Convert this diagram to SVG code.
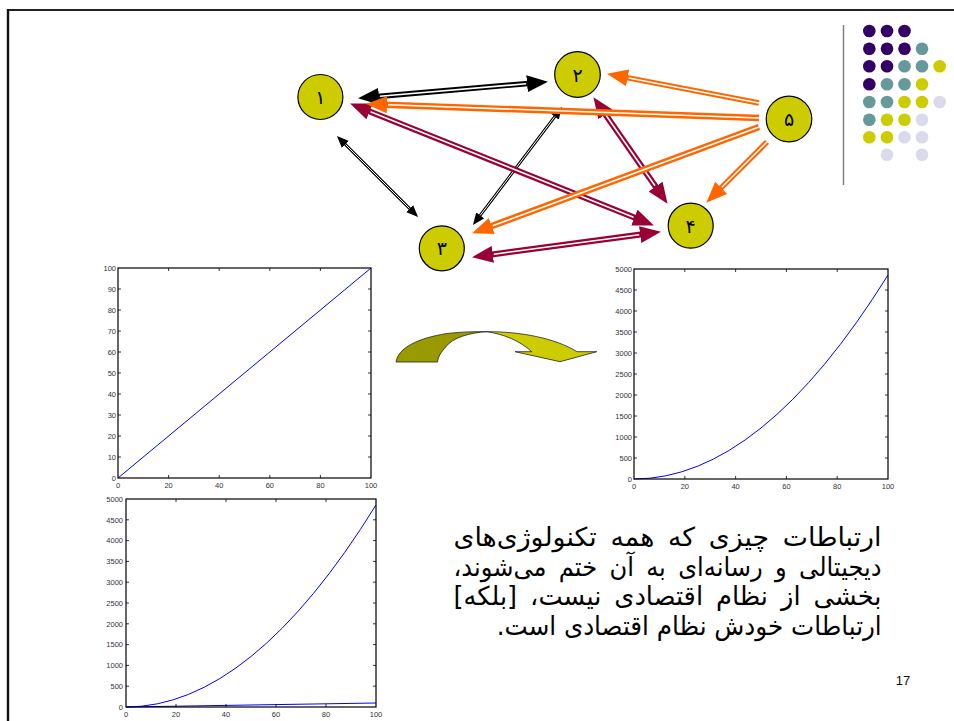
<svg xmlns="http://www.w3.org/2000/svg" width="954" height="721" viewBox="0 0 954 721">
<style>
.node circle{fill:#CCCC00;stroke:#000;stroke-width:1.2}
.node text{font-family:"DejaVu Sans",sans-serif;font-size:19px;fill:#000;text-anchor:middle;direction:rtl}
.w{stroke:#fff;fill:none}
.ax{fill:none;stroke:#000;stroke-width:1.2}
.tk{fill:none;stroke:#000;stroke-width:0.8}
.lbl{font-family:"Liberation Sans",Arial,sans-serif;font-size:7.5px;fill:#333}
.ly{text-anchor:end}
.lx{text-anchor:middle}
.cv{fill:none;stroke:#0000FF;stroke-width:1}
.fa{font-family:"DejaVu Sans",sans-serif;font-size:26px;fill:#000;direction:rtl;text-anchor:middle}
.j{word-spacing:5px}
</style>
<defs>
<marker id="hb" markerUnits="userSpaceOnUse" viewBox="0 -8.5 21 17" markerWidth="21" markerHeight="17" refX="10" refY="0" orient="auto-start-reverse"><path d="M0,-8.5 L21,0 L0,8.5 z" fill="#000"/></marker>
<marker id="hs" markerUnits="userSpaceOnUse" viewBox="0 -5 12 10" markerWidth="12" markerHeight="10" refX="6" refY="0" orient="auto-start-reverse"><path d="M0,-5 L12,0 L0,5 z" fill="#000"/></marker>
<marker id="ho" markerUnits="userSpaceOnUse" viewBox="0 -8.5 21 17" markerWidth="21" markerHeight="17" refX="10" refY="0" orient="auto-start-reverse"><path d="M0,-8.5 L21,0 L0,8.5 z" fill="#FF6600"/></marker>
<marker id="hm" markerUnits="userSpaceOnUse" viewBox="0 -8.5 21 17" markerWidth="21" markerHeight="17" refX="10" refY="0" orient="auto-start-reverse"><path d="M0,-8.5 L21,0 L0,8.5 z" fill="#990033"/></marker>
</defs>
<rect width="954" height="721" fill="#fff"/>
<g id="frame">
<path d="M8,10 H954" stroke="#222" stroke-width="2" fill="none"/>
<path d="M8,9 V721" stroke="#111" stroke-width="2.4" fill="none"/>
<path d="M843.5,25 V185" stroke="#808080" stroke-width="1.5" fill="none"/>
</g>
<g id="dots">
<circle cx="869.3" cy="31" r="6.3" fill="#330066"/><circle cx="887" cy="31" r="6.3" fill="#330066"/><circle cx="904.5" cy="31" r="6.3" fill="#330066"/>
<circle cx="869.3" cy="48.7" r="6.3" fill="#330066"/><circle cx="887" cy="48.7" r="6.3" fill="#330066"/><circle cx="904.5" cy="48.7" r="6.3" fill="#330066"/><circle cx="922" cy="48.7" r="6.3" fill="#669999"/>
<circle cx="869.3" cy="66.3" r="6.3" fill="#330066"/><circle cx="887" cy="66.3" r="6.3" fill="#330066"/><circle cx="904.5" cy="66.3" r="6.3" fill="#669999"/><circle cx="922" cy="66.3" r="6.3" fill="#669999"/><circle cx="939.7" cy="66.3" r="6.3" fill="#CCCC00"/>
<circle cx="869.3" cy="84.3" r="6.3" fill="#330066"/><circle cx="887" cy="84.3" r="6.3" fill="#669999"/><circle cx="904.5" cy="84.3" r="6.3" fill="#669999"/><circle cx="922" cy="84.3" r="6.3" fill="#CCCC00"/>
<circle cx="869.3" cy="102" r="6.3" fill="#669999"/><circle cx="887" cy="102" r="6.3" fill="#669999"/><circle cx="904.5" cy="102" r="6.3" fill="#CCCC00"/><circle cx="922" cy="102" r="6.3" fill="#CCCC00"/><circle cx="939.7" cy="102" r="6.3" fill="#DADAEC"/>
<circle cx="869.3" cy="119.7" r="6.3" fill="#669999"/><circle cx="887" cy="119.7" r="6.3" fill="#CCCC00"/><circle cx="904.5" cy="119.7" r="6.3" fill="#CCCC00"/><circle cx="922" cy="119.7" r="6.3" fill="#DADAEC"/>
<circle cx="869.3" cy="137.3" r="6.3" fill="#CCCC00"/><circle cx="887" cy="137.3" r="6.3" fill="#CCCC00"/><circle cx="904.5" cy="137.3" r="6.3" fill="#DADAEC"/><circle cx="922" cy="137.3" r="6.3" fill="#DADAEC"/>
<circle cx="887" cy="154.7" r="6.3" fill="#DADAEC"/><circle cx="922" cy="154.7" r="6.3" fill="#DADAEC"/>
</g>
<g id="connectors">
<path d="M369,97.2 L537,82.8" stroke="#000" stroke-width="5.5" fill="none" marker-start="url(#hb)" marker-end="url(#hb)"/>
<path class="w" d="M379.9,96.2 L526.1,83.8" stroke-width="1.6"/>
<path d="M341.2,140.2 L413.8,212.8" stroke="#000" stroke-width="3" fill="none" marker-start="url(#hs)" marker-end="url(#hs)"/>
<path class="w" d="M345.5,144.5 L409.5,208.5" stroke-width="1"/>
<path d="M558.4,111.8 L476.6,220.2" stroke="#000" stroke-width="3" fill="none" marker-start="url(#hs)" marker-end="url(#hs)"/>
<path class="w" d="M554.8,116.6 L480.2,215.4" stroke-width="1"/>
<path d="M360.3,107.7 L643.7,221.3" stroke="#990033" stroke-width="6" fill="none" marker-start="url(#hm)" marker-end="url(#hm)"/>
<path class="w" d="M370.5,111.8 L633.5,217.2" stroke-width="1.6"/>
<path d="M599.7,106.2 L661.3,194.8" stroke="#990033" stroke-width="6" fill="none" marker-start="url(#hm)" marker-end="url(#hm)"/>
<path class="w" d="M606,115.2 L655,185.8" stroke-width="1.6"/>
<path d="M482.9,255.7 L650.1,233.3" stroke="#990033" stroke-width="6" fill="none" marker-start="url(#hm)" marker-end="url(#hm)"/>
<path class="w" d="M493.8,254.2 L639.2,234.8" stroke-width="1.6"/>
<path d="M759,103 L617.8,75.9" stroke="#FF6600" stroke-width="5.5" fill="none" marker-end="url(#ho)"/>
<path class="w" d="M759,103 L628.6,78" stroke-width="1.4"/>
<path d="M759,118 L377,104.4" stroke="#FF6600" stroke-width="6.5" fill="none" marker-end="url(#ho)"/>
<path class="w" d="M759,118 L388,104.8" stroke-width="1.6"/>
<path d="M759,127 L482.4,229.5" stroke="#FF6600" stroke-width="6.5" fill="none" marker-end="url(#ho)"/>
<path class="w" d="M759,127 L492.7,225.7" stroke-width="1.6"/>
<path d="M767,142 L714.1,194.9" stroke="#FF6600" stroke-width="5.5" fill="none" marker-end="url(#ho)"/>
<path class="w" d="M767,142 L721.8,187.2" stroke-width="1.4"/>
</g>
<g id="n1" class="node"><circle cx="320.4" cy="97" r="22.5"/><text x="320.4" y="104">۱</text></g>
<g id="n2" class="node"><circle cx="577.5" cy="74.5" r="22.8"/><text x="577.5" y="81.5">۲</text></g>
<g id="n3" class="node"><circle cx="441.8" cy="248.3" r="22.5"/><text x="441.8" y="255.3">۳</text></g>
<g id="n4" class="node"><circle cx="690.7" cy="225.7" r="22.5"/><text x="690.7" y="232.7">۴</text></g>
<g id="n5" class="node"><circle cx="789" cy="119" r="22.8"/><text x="789" y="126">۵</text></g>
<g id="bent-arrow">
<path d="M396,362 C398,348 418,338 447,333.5 C462,331.8 476,331.5 487,331.7 C470,332.5 452,338 446,346.7 C441,352 438,357 437.5,362 Z" fill="#999900" stroke="#222" stroke-width="0.8"/>
<path d="M487,331.7 C520,331.5 555,338 577,351.7 L596.7,351.7 L560,361.7 L515,351.7 L531.7,351.7 C520,341 505,334.5 487,331.7 Z" fill="#CCCC00" stroke="#222" stroke-width="0.8"/>
</g>
<g id="plot1">
<path class="cv" d="M118,478 L371,268"/>
<rect class="ax" x="118" y="268" width="253" height="210"/>
<path class="tk" d="M118,457h3M118,436h3M118,415h3M118,394h3M118,373h3M118,352h3M118,331h3M118,310h3M118,289h3M371,457h-3M371,436h-3M371,415h-3M371,394h-3M371,373h-3M371,352h-3M371,331h-3M371,310h-3M371,289h-3M168.6,478v-3M219.2,478v-3M269.8,478v-3M320.4,478v-3M168.6,268v3M219.2,268v3M269.8,268v3M320.4,268v3"/>
<g class="lbl ly">
<text x="116" y="480.7">0</text><text x="116" y="459.7">10</text><text x="116" y="438.7">20</text><text x="116" y="417.7">30</text><text x="116" y="396.7">40</text><text x="116" y="375.7">50</text><text x="116" y="354.7">60</text><text x="116" y="333.7">70</text><text x="116" y="312.7">80</text><text x="116" y="291.7">90</text><text x="116" y="270.7">100</text>
</g>
<g class="lbl lx">
<text x="118" y="488">0</text><text x="168.6" y="488">20</text><text x="219.2" y="488">40</text><text x="269.8" y="488">60</text><text x="320.4" y="488">80</text><text x="371" y="488">100</text>
</g>
</g>
<g id="plot2">
<path class="cv" d="M634,479 Q761,479 888,275"/>
<rect class="ax" x="634" y="269" width="254" height="210"/>
<path class="tk" d="M634,458h3M634,437h3M634,416h3M634,395h3M634,374h3M634,353h3M634,332h3M634,311h3M634,290h3M888,458h-3M888,437h-3M888,416h-3M888,395h-3M888,374h-3M888,353h-3M888,332h-3M888,311h-3M888,290h-3M684.8,479v-3M735.6,479v-3M786.4,479v-3M837.2,479v-3M684.8,269v3M735.6,269v3M786.4,269v3M837.2,269v3"/>
<g class="lbl ly">
<text x="632" y="481.7">0</text><text x="632" y="460.7">500</text><text x="632" y="439.7">1000</text><text x="632" y="418.7">1500</text><text x="632" y="397.7">2000</text><text x="632" y="376.7">2500</text><text x="632" y="355.7">3000</text><text x="632" y="334.7">3500</text><text x="632" y="313.7">4000</text><text x="632" y="292.7">4500</text><text x="632" y="271.7">5000</text>
</g>
<g class="lbl lx">
<text x="634" y="489">0</text><text x="684.8" y="489">20</text><text x="735.6" y="489">40</text><text x="786.4" y="489">60</text><text x="837.2" y="489">80</text><text x="888" y="489">100</text>
</g>
</g>
<g id="plot3">
<path class="cv" d="M126,707 Q251,707 376,505"/>
<path class="cv" d="M126,707 L376,703"/>
<rect class="ax" x="126" y="499" width="250" height="208"/>
<path class="tk" d="M126,686.2h3M126,665.4h3M126,644.6h3M126,623.8h3M126,603h3M126,582.2h3M126,561.4h3M126,540.6h3M126,519.8h3M376,686.2h-3M376,665.4h-3M376,644.6h-3M376,623.8h-3M376,603h-3M376,582.2h-3M376,561.4h-3M376,540.6h-3M376,519.8h-3M176,707v-3M226,707v-3M276,707v-3M326,707v-3M176,499v3M226,499v3M276,499v3M326,499v3"/>
<g class="lbl ly">
<text x="123" y="709.7">0</text><text x="123" y="688.9">500</text><text x="123" y="668.1">1000</text><text x="123" y="647.3">1500</text><text x="123" y="626.5">2000</text><text x="123" y="605.7">2500</text><text x="123" y="584.9">3000</text><text x="123" y="564.1">3500</text><text x="123" y="543.3">4000</text><text x="123" y="522.5">4500</text><text x="123" y="501.7">5000</text>
</g>
<g class="lbl lx">
<text x="126" y="717">0</text><text x="176" y="717">20</text><text x="226" y="717">40</text><text x="276" y="717">60</text><text x="326" y="717">80</text><text x="376" y="717">100</text>
</g>
</g>
<g id="paragraph">
<text class="fa j" x="667.5" y="546" textLength="428" lengthAdjust="spacingAndGlyphs">ارتباطات چیزی که همه تکنولوژی‌های</text>
<text class="fa j" x="667.5" y="575.5" textLength="428" lengthAdjust="spacingAndGlyphs">دیجیتالی و رسانه‌ای به آن ختم می‌شوند،</text>
<text class="fa j" x="667.5" y="605" textLength="428" lengthAdjust="spacingAndGlyphs">بخشی از نظام اقتصادی نیست، [بلکه]</text>
<text class="fa" x="689.2" y="634.5" textLength="385" lengthAdjust="spacingAndGlyphs">ارتباطات خودش نظام اقتصادی است.</text>
</g>
<text x="903" y="685" font-family="Liberation Sans, Arial, sans-serif" font-size="13" text-anchor="middle" fill="#111">17</text>
</svg>
